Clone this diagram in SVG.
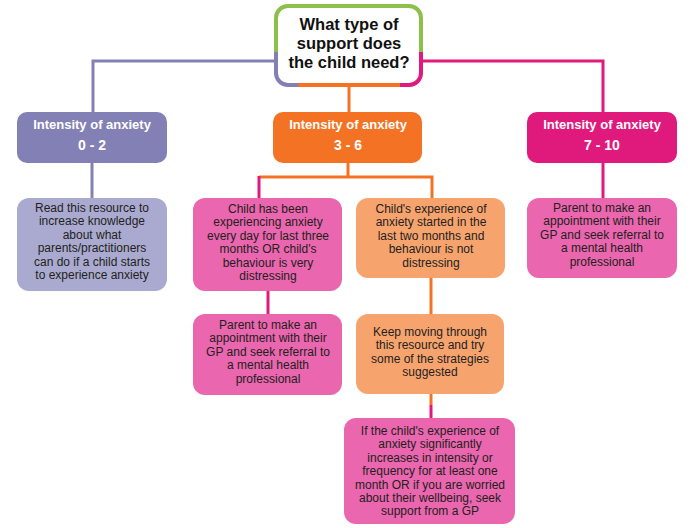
<svg xmlns="http://www.w3.org/2000/svg" width="700" height="528" viewBox="0 0 700 528">
<style>
.t{font-family:"Liberation Sans",Arial,sans-serif;font-size:12px;fill:#231f20;text-anchor:middle}
.h{font-family:"Liberation Sans",Arial,sans-serif;font-size:13px;font-weight:bold;fill:#ffffff;text-anchor:middle}
.n{font-size:14px}
.q{font-family:"Liberation Sans",Arial,sans-serif;font-size:16.5px;font-weight:bold;fill:#111111;text-anchor:middle}
.c{fill:none;stroke-width:3}
.pu{stroke:#8480b6}.or{stroke:#f37224}.pk{stroke:#e0197d}.gr{stroke:#8cc04a}
</style>
<g id="connectors">
<path class="c pu" d="M276,61 H93 V112"/>
<path class="c pk" d="M421,61 H603 V112"/>
<path class="c or" d="M349,86 V112"/>
<path class="c pu" d="M92,163 V198"/>
<path class="c or" d="M348,163 V177 M259,177 H432 V198"/>
<path class="c pk" d="M259,176 V198"/>
<path class="c pk" d="M603,163 V198"/>
<path class="c pk" d="M268,291 V314"/>
<path class="c or" d="M431,278 V314"/>
<path class="c or" d="M431,394 V405"/>
<path class="c pk" d="M431,405 V418"/>
</g>
<g id="question">
<rect x="276" y="6" width="145" height="79" rx="12" fill="#ffffff"/>
<path class="c gr" style="stroke-width:4" d="M276,52 V18 A12,12 0 0 1 288,6 H409 A12,12 0 0 1 421,18 V52"/>
<path class="c pu" style="stroke-width:4" d="M276,52 V73 A12,12 0 0 0 288,85 H298"/>
<path class="c or" style="stroke-width:4" d="M298,85 H400"/>
<path class="c pk" style="stroke-width:4" d="M400,85 H409 A12,12 0 0 0 421,73 V52"/>
<text class="q" x="349" y="30">What type of</text>
<text class="q" x="349" y="49">support does</text>
<text class="q" x="349" y="68">the child need?</text>
</g>
<g id="int02">
<rect x="17" y="112" width="150" height="51" rx="10" fill="#8380b5"/>
<text class="h" x="92" y="129">Intensity of anxiety</text>
<text class="h n" x="92" y="150">0 - 2</text>
</g>
<g id="int36">
<rect x="273" y="112" width="149" height="51" rx="10" fill="#f37224"/>
<text class="h" x="348" y="129">Intensity of anxiety</text>
<text class="h n" x="348" y="150">3 - 6</text>
</g>
<g id="int710">
<rect x="527" y="112" width="150" height="51" rx="10" fill="#e0197d"/>
<text class="h" x="602" y="129">Intensity of anxiety</text>
<text class="h n" x="602" y="150">7 - 10</text>
</g>
<g id="read">
<rect x="17" y="198" width="150" height="93" rx="12" fill="#aaaad0"/>
<text class="t" x="92" y="212">Read this resource to</text>
<text class="t" x="92" y="225.4">increase knowledge</text>
<text class="t" x="92" y="238.8">about what</text>
<text class="t" x="92" y="252.2">parents/practitioners</text>
<text class="t" x="92" y="265.6">can do if a child starts</text>
<text class="t" x="92" y="279">to experience anxiety</text>
</g>
<g id="everyday">
<rect x="193" y="198" width="149" height="93" rx="12" fill="#ea66ae"/>
<text class="t" x="268" y="213">Child has been</text>
<text class="t" x="268" y="226.4">experiencing anxiety</text>
<text class="t" x="268" y="239.8">every day for last three</text>
<text class="t" x="268" y="253.2">months OR child's</text>
<text class="t" x="268" y="266.6">behaviour is very</text>
<text class="t" x="268" y="280">distressing</text>
</g>
<g id="twomonths">
<rect x="356" y="198" width="149" height="80" rx="12" fill="#f7a36e"/>
<text class="t" x="431" y="213">Child's experience of</text>
<text class="t" x="431" y="226.4">anxiety started in the</text>
<text class="t" x="431" y="239.8">last two months and</text>
<text class="t" x="431" y="253.2">behaviour is not</text>
<text class="t" x="431" y="266.6">distressing</text>
</g>
<g id="gpright">
<rect x="527" y="198" width="150" height="80" rx="12" fill="#ea66ae"/>
<text class="t" x="602" y="212">Parent to make an</text>
<text class="t" x="602" y="225.4">appointment with their</text>
<text class="t" x="602" y="238.8">GP and seek referral to</text>
<text class="t" x="602" y="252.2">a mental health</text>
<text class="t" x="602" y="265.6">professional</text>
</g>
<g id="gpmid">
<rect x="193" y="314" width="149" height="81" rx="12" fill="#ea66ae"/>
<text class="t" x="268" y="329">Parent to make an</text>
<text class="t" x="268" y="342.4">appointment with their</text>
<text class="t" x="268" y="355.8">GP and seek referral to</text>
<text class="t" x="268" y="369.2">a mental health</text>
<text class="t" x="268" y="382.6">professional</text>
</g>
<g id="keepmoving">
<rect x="356" y="314" width="148" height="80" rx="12" fill="#f7a36e"/>
<text class="t" x="430" y="336">Keep moving through</text>
<text class="t" x="430" y="349.4">this resource and try</text>
<text class="t" x="430" y="362.8">some of the strategies</text>
<text class="t" x="430" y="376.2">suggested</text>
</g>
<g id="ifincreases">
<rect x="344" y="418" width="171" height="106" rx="12" fill="#ea66ae"/>
<text class="t" x="430" y="435">If the child's experience of</text>
<text class="t" x="430" y="448.4">anxiety significantly</text>
<text class="t" x="430" y="461.8">increases in intensity or</text>
<text class="t" x="430" y="475.2">frequency for at least one</text>
<text class="t" x="430" y="488.6">month OR if you are worried</text>
<text class="t" x="430" y="502">about their wellbeing, seek</text>
<text class="t" x="430" y="515.4">support from a GP</text>
</g>
</svg>
